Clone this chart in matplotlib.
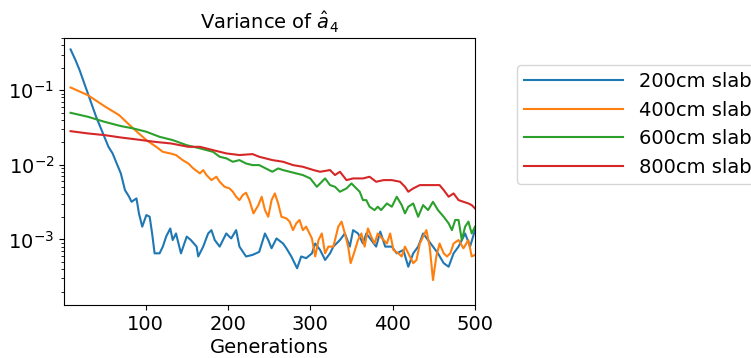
import matplotlib
matplotlib.use("Agg")
import matplotlib.pyplot as plt

labels = ["200cm slab", "400cm slab", "600cm slab", "800cm slab"]
colors = ["#1f77b4", "#ff7f0e", "#2ca02c", "#d62728"]

gen_200 = [9, 15, 20, 25, 30, 35, 40, 45, 50, 55, 60, 65, 70, 75, 80, 83, 89, 92, 96, 101,
           105, 108, 111, 117, 121, 125, 130, 133, 137, 143, 150, 155, 162, 164, 170, 176,
           180, 184, 190, 194, 198, 204, 210, 214, 222, 230, 238, 245, 249, 253, 259, 267,
           271, 277, 284, 289, 295, 302, 306, 312, 318, 324, 328, 336, 342, 348, 352, 358,
           364, 368, 374, 380, 385, 391, 399, 405, 413, 419, 425, 431, 437, 443, 449, 455,
           462, 468, 474, 480, 488, 494, 500]
var_200 = [0.351, 0.252, 0.185, 0.129, 0.0902, 0.0630, 0.0440, 0.0323, 0.0237, 0.0174,
           0.0142, 0.0104, 0.00766, 0.00458, 0.00373, 0.00319, 0.00354, 0.00223, 0.00148,
           0.00212, 0.00201, 0.00120, 0.00065, 0.00065, 0.00080, 0.00109, 0.00140, 0.00098,
           0.00120, 0.00065, 0.00109, 0.00098, 0.00080, 0.00059, 0.00080, 0.00120, 0.00133,
           0.00098, 0.00080, 0.00098, 0.00120, 0.00103, 0.00133, 0.00080, 0.00059, 0.00062,
           0.00068, 0.00120, 0.00098, 0.00076, 0.00103, 0.00088, 0.00076, 0.00059, 0.00041,
           0.00059, 0.00056, 0.00065, 0.00088, 0.00072, 0.00053, 0.00065, 0.00080, 0.00098,
           0.00120, 0.00080, 0.00133, 0.00120, 0.00088, 0.00120, 0.00098, 0.00080, 0.00127,
           0.00080, 0.00080, 0.00065, 0.00072, 0.00043, 0.00065, 0.00080, 0.00120, 0.00098,
           0.00080, 0.00065, 0.00048, 0.00043, 0.00065, 0.00080, 0.00120, 0.00080, 0.00133]

gen_400 = [9, 30, 50, 68, 85, 101, 113, 121, 130, 137, 145, 152, 158, 166, 170, 174, 180,
           186, 190, 196, 202, 206, 210, 214, 218, 222, 226, 231, 237, 241, 245, 249, 253,
           257, 261, 265, 271, 275, 279, 283, 287, 291, 295, 302, 306, 310, 314, 318, 322,
           328, 334, 338, 342, 346, 349, 353, 358, 362, 366, 370, 374, 378, 382, 389, 393,
           397, 401, 407, 411, 415, 419, 425, 429, 433, 437, 441, 445, 449, 453, 457, 462,
           466, 470, 474, 480, 486, 492, 496, 500]
var_400 = [0.1086, 0.0857, 0.0611, 0.0462, 0.0307, 0.0214, 0.0174, 0.0149, 0.0142, 0.0135,
           0.01155, 0.0104, 0.00893, 0.00766, 0.00849, 0.00728, 0.00623, 0.00691, 0.00592,
           0.00507, 0.00482, 0.00435, 0.00373, 0.00336, 0.00393, 0.00422, 0.00336, 0.00223,
           0.00288, 0.00373, 0.00247, 0.00201, 0.00336, 0.00413, 0.00303, 0.00201, 0.00191,
           0.00173, 0.00133, 0.00164, 0.00182, 0.00133, 0.00148, 0.00103, 0.00059, 0.00098,
           0.00120, 0.00065, 0.00080, 0.00080, 0.00148, 0.00173, 0.00120, 0.00080, 0.00048,
           0.00065, 0.00098, 0.00120, 0.00080, 0.00140, 0.00109, 0.00088, 0.00120, 0.00098,
           0.00088, 0.00120, 0.00072, 0.00065, 0.00059, 0.00080, 0.00065, 0.00048, 0.00053,
           0.00088, 0.00109, 0.00133, 0.00080, 0.000285, 0.00059, 0.00088, 0.00065, 0.00059,
           0.00065, 0.00088, 0.00098, 0.00076, 0.00098, 0.00059, 0.00062]

gen_600 = [9, 30, 50, 70, 85, 101, 117, 133, 150, 166, 182, 190, 198, 206, 214, 222, 230,
           238, 246, 254, 261, 267, 275, 283, 291, 300, 308, 314, 318, 324, 330, 336, 344,
           350, 354, 360, 364, 368, 372, 378, 382, 386, 393, 399, 405, 411, 415, 419, 425,
           431, 437, 443, 449, 455, 462, 468, 472, 476, 480, 484, 488, 492, 496, 500]
var_600 = [0.0497, 0.0440, 0.0377, 0.0330, 0.0307, 0.0277, 0.0237, 0.0214, 0.0183, 0.0166,
           0.0149, 0.0128, 0.0122, 0.01097, 0.01155, 0.0104, 0.0099, 0.0099, 0.00893,
           0.00806, 0.00893, 0.00849, 0.00806, 0.00766, 0.00728, 0.00656, 0.00507, 0.00592,
           0.00656, 0.00534, 0.00507, 0.00435, 0.00482, 0.00562, 0.00507, 0.00435, 0.00336,
           0.00336, 0.00274, 0.00247, 0.00274, 0.00247, 0.00303, 0.00274, 0.00373, 0.00288,
           0.00223, 0.00274, 0.00303, 0.00201, 0.00288, 0.00247, 0.00319, 0.00247, 0.00201,
           0.00164, 0.00133, 0.00182, 0.00182, 0.00098, 0.00148, 0.00173, 0.00120, 0.00148]

gen_800 = [9, 30, 50, 70, 90, 111, 131, 152, 166, 182, 198, 214, 230, 238, 254, 267, 279,
           291, 304, 312, 324, 330, 336, 344, 352, 364, 372, 380, 389, 399, 409, 415, 419,
           425, 433, 441, 449, 457, 462, 468, 474, 480, 486, 492, 496, 500]
var_800 = [0.0282, 0.0263, 0.0250, 0.0232, 0.0218, 0.0203, 0.0193, 0.0174, 0.0174, 0.0157,
           0.0142, 0.0135, 0.0139, 0.0128, 0.01155, 0.01097, 0.0099, 0.0094, 0.00849,
           0.00806, 0.00849, 0.00728, 0.00806, 0.00623, 0.00656, 0.00656, 0.00691, 0.00592,
           0.00623, 0.00623, 0.00592, 0.00507, 0.00435, 0.00482, 0.00534, 0.00534, 0.00534,
           0.00534, 0.00458, 0.00373, 0.00413, 0.00336, 0.00319, 0.00303, 0.00288, 0.00260]

x_ticks = [100, 200, 300, 400, 500]

series = [(gen_200, var_200), (gen_400, var_400), (gen_600, var_600), (gen_800, var_800)]

fig = plt.figure(figsize=(7.51, 3.58), dpi=100)
ax = fig.add_axes([64 / 751, 1 - 305 / 358, 411 / 751, 267 / 358])
for (g, v), lab, c in zip(series, labels, colors):
    ax.plot(g, v, color=c, lw=1.5, label=lab)

ax.set_yscale("log")
ax.set_xlim(1, 500)
ax.set_ylim(1.32e-4, 0.50)
ax.set_xticks(x_ticks)
ax.tick_params(labelsize=14)
ax.set_title(r"Variance of $\hat{a}_4$", fontsize=14)
ax.set_xlabel("Generations", fontsize=14, labelpad=3)

fig.legend(loc="upper left", bbox_to_anchor=(517 / 751, 1 - 65 / 358),
           bbox_transform=fig.transFigure, borderaxespad=0, fontsize=14,
           handlelength=5.1, borderpad=0.35, frameon=True)

fig.savefig("out.png", dpi=100)
